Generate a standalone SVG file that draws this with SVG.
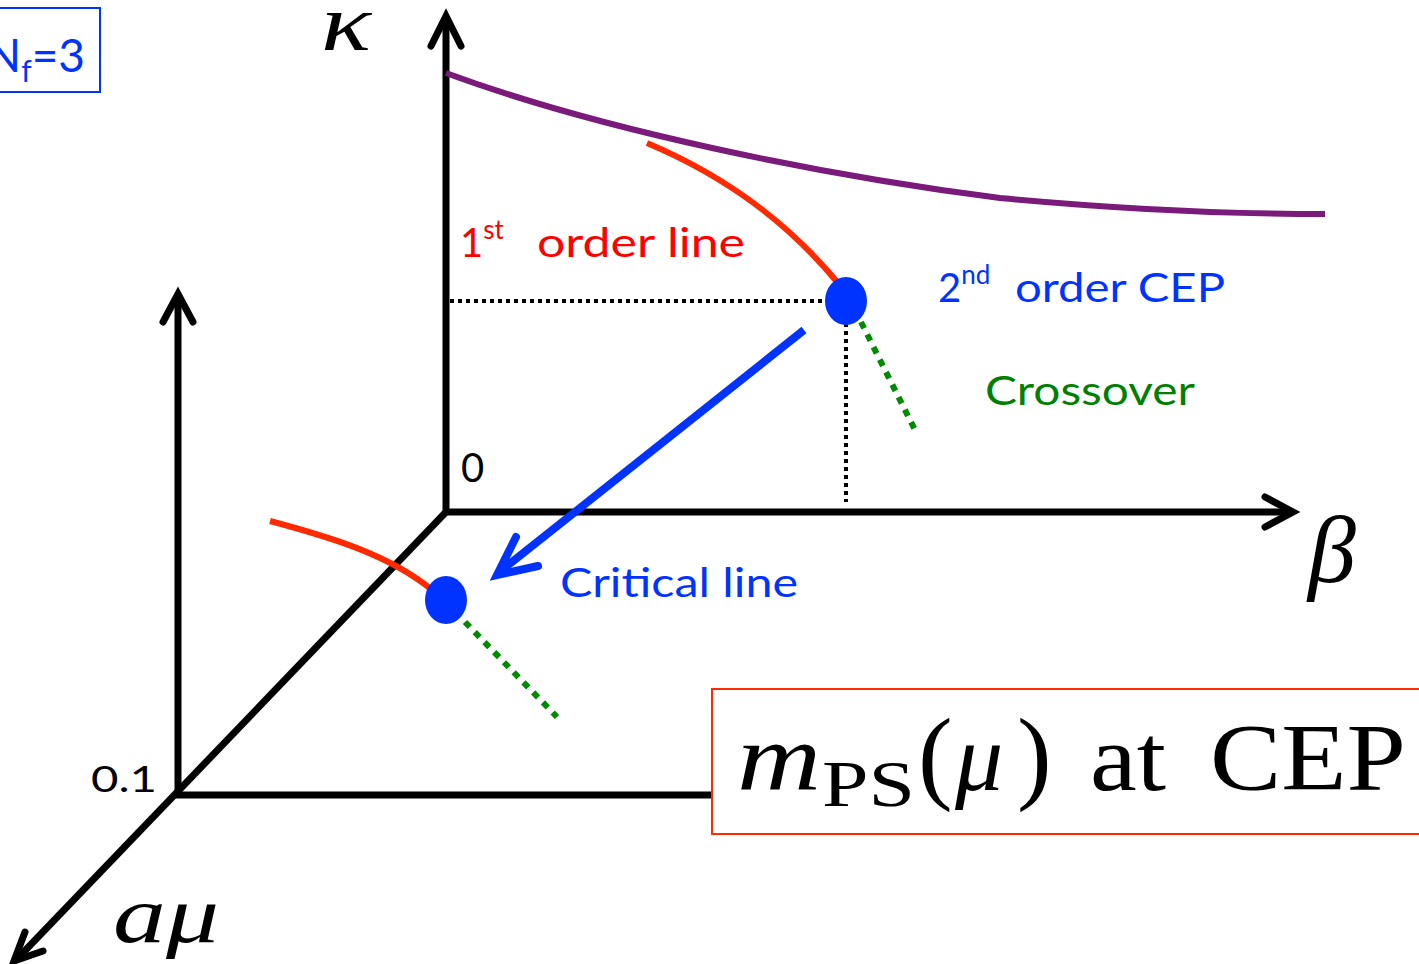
<svg xmlns="http://www.w3.org/2000/svg" width="1419" height="964" viewBox="0 0 1419 964">
<style>
.ax{stroke:#000;stroke-width:7;fill:none;stroke-linecap:butt}
.hd{stroke:#000;stroke-width:7;fill:none;stroke-linecap:round;stroke-linejoin:miter}
.cal{font-family:Lato,"Open Sans","Liberation Sans",sans-serif}
.ser{font-family:"Liberation Serif","DejaVu Serif",serif}
.dotk{stroke:#000;stroke-width:4;stroke-dasharray:4 4;fill:none}
.dotg{stroke:#008A00;stroke-width:6;stroke-dasharray:7 7;fill:none}
.red{stroke:#FF2A00;stroke-width:6;fill:none}
.dot{fill:#0033FF}
</style>
<rect width="1419" height="964" fill="#fff"/>
<g id="axes">
<line class="ax" x1="446" y1="515" x2="446" y2="18"/>
<polyline class="hd" points="431,46 446,16 461,46"/>
<line class="ax" x1="443" y1="512" x2="1290" y2="512"/>
<polyline class="hd" points="1265,497 1293,512 1265,527"/>
<line class="ax" x1="178" y1="798" x2="178" y2="296"/>
<polyline class="hd" points="163,322 178,294 193,322"/>
<line class="ax" x1="175" y1="795" x2="712" y2="795"/>
<line class="ax" x1="446" y1="512" x2="16" y2="960"/>
<polyline class="hd" points="25,932 14,961 43,951"/>
</g>
<g id="connectors">
<path d="M446,73 C600,130 820,175 1000,198 C1150,212 1250,214 1325,214" stroke="#7A1A7A" stroke-width="6" fill="none"/>
<path class="red" d="M647,143 C730,178 790,225 838,283"/>
<line class="dotk" x1="450" y1="301" x2="826" y2="301"/>
<line class="dotk" x1="846" y1="323" x2="846" y2="502"/>
<path class="dotg" d="M861,322 L916,432"/>
<path class="red" d="M270,521 C330,537 390,555 432,590"/>
<path class="dotg" d="M465,622 L557,717"/>
<line x1="804" y1="330" x2="502" y2="570" stroke="#0033FF" stroke-width="8"/>
<polyline points="516,537 497,575 538,566" stroke="#0033FF" stroke-width="8" fill="none" stroke-linecap="round"/>
</g>
<g id="cep-upper"><ellipse class="dot" cx="846" cy="301" rx="21" ry="24"/></g>
<g id="cep-lower"><ellipse class="dot" cx="446" cy="600" rx="21" ry="24"/></g>
<g id="nf-label">
<rect x="-5" y="8" width="105" height="84" fill="none" stroke="#0033FF" stroke-width="2"/>
<text class="cal" x="-14" y="72" font-size="46" fill="#0033FF">N<tspan font-size="30" dy="10">f</tspan><tspan dy="-10">=3</tspan></text>
</g>
<g id="labels">
<text class="ser" x="321" y="50" font-size="80" font-style="italic" textLength="50" lengthAdjust="spacingAndGlyphs">κ</text>
<text class="ser" x="1308" y="582" font-size="96" font-style="italic">β</text>
<text class="ser" x="113" y="942" font-size="80" font-style="italic" textLength="106" lengthAdjust="spacingAndGlyphs">aμ</text>
<text class="cal" x="460" y="257" font-size="40" fill="#FF0000">1<tspan font-size="26" dy="-18">st</tspan><tspan x="537" dy="18" textLength="208" lengthAdjust="spacingAndGlyphs">order line</tspan></text>
<text class="cal" x="938" y="302" font-size="40" fill="#0033FF">2<tspan font-size="26" dy="-18">nd</tspan><tspan x="1015" dy="18" textLength="210" lengthAdjust="spacingAndGlyphs">order CEP</tspan></text>
<text class="cal" x="985" y="405" font-size="40" fill="#008000" textLength="210" lengthAdjust="spacingAndGlyphs">Crossover</text>
<text class="cal" x="560" y="597" font-size="40" fill="#0033FF" textLength="238" lengthAdjust="spacingAndGlyphs">Critical line</text>
<text class="cal" x="461" y="482" font-size="40" fill="#000">0</text>
<text class="cal" x="91" y="792" font-size="36" fill="#000" textLength="66" lengthAdjust="spacingAndGlyphs">0.1</text>
</g>
<g id="mps-box">
<rect x="712" y="689" width="712" height="145" fill="#fff" stroke="#FF2A00" stroke-width="2"/>
<text class="ser" font-size="96">
<tspan x="737" y="790" font-style="italic" textLength="84" lengthAdjust="spacingAndGlyphs">m</tspan>
<tspan x="822" y="806" font-size="66" textLength="93" lengthAdjust="spacingAndGlyphs">PS</tspan>
<tspan x="918" y="790" font-size="104">(</tspan>
<tspan x="955" y="790" font-style="italic">μ</tspan>
<tspan x="1017" y="790" font-size="104">)</tspan>
<tspan x="1090" y="790" textLength="76" lengthAdjust="spacingAndGlyphs">at</tspan>
<tspan x="1210" y="790" textLength="196" lengthAdjust="spacingAndGlyphs">CEP</tspan>
</text>
</g>
</svg>
